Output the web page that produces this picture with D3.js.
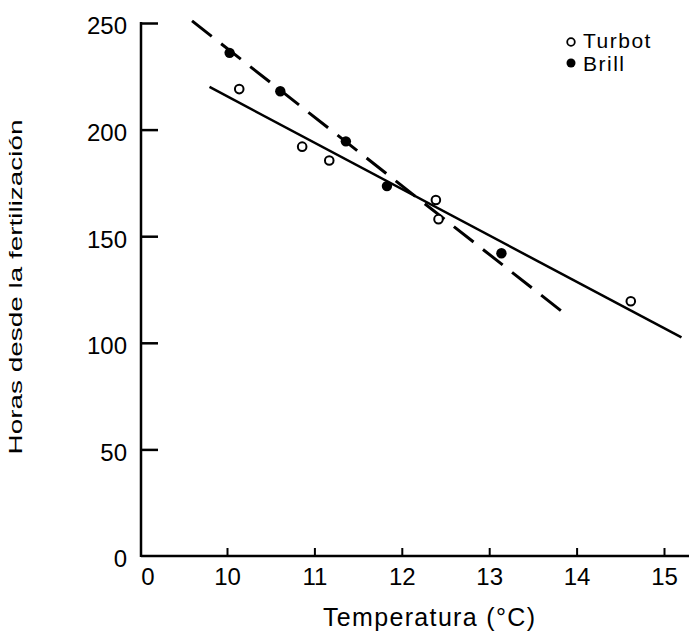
<!DOCTYPE html>
<html>
<head>
<meta charset="utf-8">
<script src="https://cdn.jsdelivr.net/npm/d3@7"></script>
<style>
  body { margin: 0; background: #fff; }
  svg { display: block; font-family: "Liberation Sans", Arial, sans-serif; }
</style>
</head>
<body>
<svg></svg>
<script>
var width = 689;
var height = 638;

// temperature (°C) and hours since fertilization
var turbotTemp  = [10.14, 10.86, 11.17, 12.39, 12.42, 14.62];
var turbotHours = [219, 192, 185.5, 167, 158, 119.5];
var brillTemp   = [10.03, 10.61, 11.36, 11.83, 13.14];
var brillHours  = [236, 218, 194.5, 173.5, 142];

// fitted regression lines (end points)
var turbotFit = [[9.8, 220], [15.2, 102.5]];
var brillFit  = [[9.6, 251], [13.9, 112.5]];

var xTicks = [10, 11, 12, 13, 14, 15];
var yTicks = [0, 50, 100, 150, 200, 250];

var svg = d3.select("svg")
            .attr("width", width)
            .attr("height", height);

var x = d3.scaleLinear().domain([10, 15]).range([227, 664]);
var y = d3.scaleLinear().domain([0, 250]).range([556, 23]);

var x0 = 141, yBase = 556;

// axes
var yAxis = d3.axisLeft(y).tickValues(yTicks).tickFormat(d3.format("d"))
              .tickSize(-17).tickPadding(14);
var gy = svg.append("g").attr("transform", "translate(" + x0 + ",0)").call(yAxis);
gy.select(".domain").remove();
gy.selectAll(".tick line").attr("stroke", "#000").attr("stroke-width", 2.5);
gy.selectAll(".tick text").attr("font-size", 24).attr("dy", "0.45em").attr("fill", "#000");
gy.select(".tick:first-of-type line").remove();

var xAxis = d3.axisBottom(x).tickValues(xTicks).tickFormat(d3.format("d"))
              .tickSize(-8).tickPadding(12);
var gx = svg.append("g").attr("transform", "translate(0," + yBase + ")").call(xAxis);
gx.select(".domain").remove();
gx.selectAll(".tick line").attr("stroke", "#000").attr("stroke-width", 2);
gx.selectAll(".tick text").attr("font-size", 24).attr("fill", "#000");

svg.append("text")
   .attr("x", 148).attr("y", yBase + 12)
   .attr("dy", "0.71em")
   .attr("text-anchor", "middle")
   .attr("font-size", 24)
   .text("0");

svg.append("line")
   .attr("x1", x0).attr("x2", x0)
   .attr("y1", y(250) - 1).attr("y2", yBase + 1)
   .attr("stroke", "#000").attr("stroke-width", 2.5);
svg.append("line")
   .attr("x1", x0).attr("x2", width)
   .attr("y1", yBase).attr("y2", yBase)
   .attr("stroke", "#000").attr("stroke-width", 2.5);

// axis titles
svg.append("text")
   .attr("x", 429).attr("y", 626)
   .attr("text-anchor", "middle")
   .attr("font-size", 25)
   .attr("textLength", 212)
   .attr("lengthAdjust", "spacing")
   .text("Temperatura  (°C)");

svg.append("text")
   .attr("transform", "translate(22,287) rotate(-90)")
   .attr("text-anchor", "middle")
   .attr("font-size", 18)
   .attr("textLength", 335)
   .attr("lengthAdjust", "spacingAndGlyphs")
   .text("Horas  desde  la  fertilización");

// regression lines
var line = d3.line()
             .x(function(d){ return x(d[0]); })
             .y(function(d){ return y(d[1]); });

svg.append("path")
   .datum(turbotFit)
   .attr("d", line)
   .attr("fill", "none")
   .attr("stroke", "#000")
   .attr("stroke-width", 2.5);

svg.append("path")
   .datum(brillFit)
   .attr("d", line)
   .attr("fill", "none")
   .attr("stroke", "#000")
   .attr("stroke-width", 3)
   .attr("stroke-dasharray", "25,12");

// points
svg.selectAll("circle.turbot")
   .data(turbotTemp)
   .enter()
   .append("circle")
     .attr("class", "turbot")
     .attr("r", 4.3)
     .attr("cx", function(d){ return x(d); })
     .attr("cy", function(d, i){ return y(turbotHours[i]); })
     .attr("fill", "#fff")
     .attr("stroke", "#000")
     .attr("stroke-width", 2);

svg.selectAll("circle.brill")
   .data(brillTemp)
   .enter()
   .append("circle")
     .attr("class", "brill")
     .attr("r", 5.2)
     .attr("cx", function(d){ return x(d); })
     .attr("cy", function(d, i){ return y(brillHours[i]); })
     .attr("fill", "#000");

// legend
var legend = svg.append("g");
legend.append("circle")
      .attr("cx", 571).attr("cy", 42).attr("r", 3.8)
      .attr("fill", "#fff").attr("stroke", "#000").attr("stroke-width", 1.8);
legend.append("text")
      .attr("x", 583).attr("y", 48)
      .attr("font-size", 21)
      .attr("letter-spacing", 1.5)
      .text("Turbot");
legend.append("circle")
      .attr("cx", 571).attr("cy", 63).attr("r", 4.5)
      .attr("fill", "#000");
legend.append("text")
      .attr("x", 583).attr("y", 71)
      .attr("font-size", 21)
      .attr("letter-spacing", 1.5)
      .text("Brill");
</script>
</body>
</html>
